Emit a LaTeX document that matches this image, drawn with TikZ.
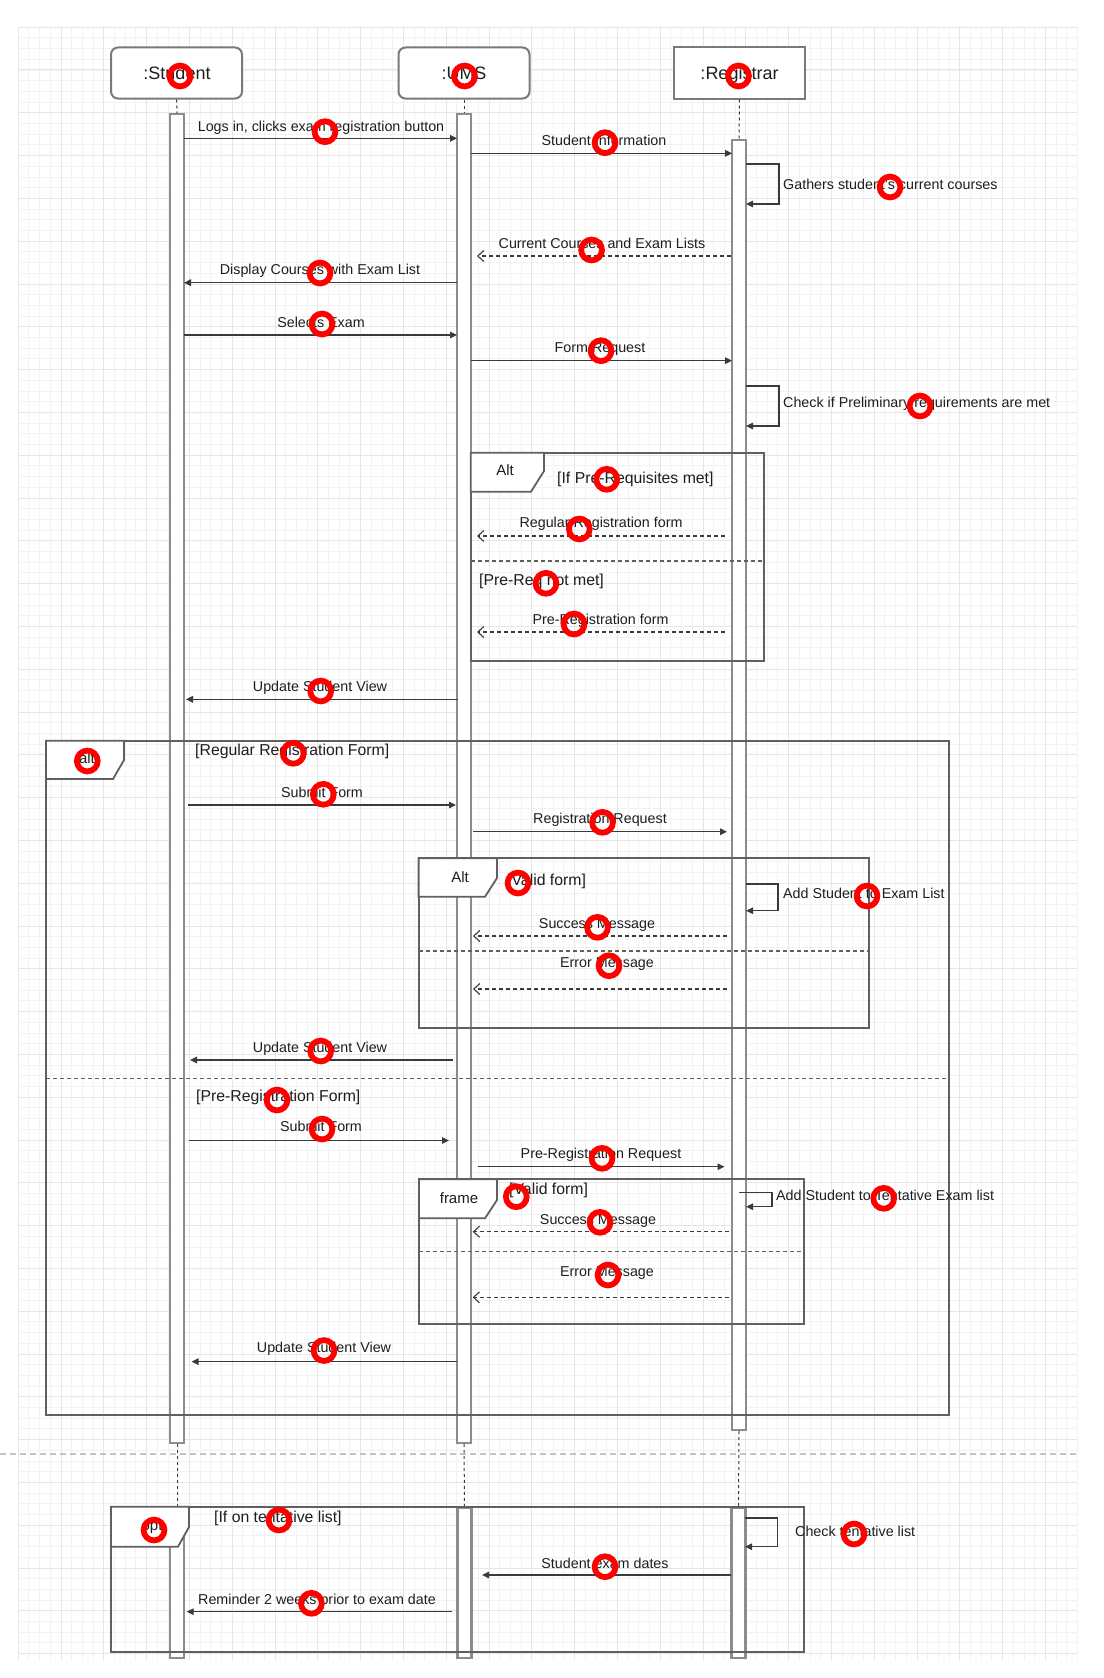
\documentclass[tikz,border=0pt]{standalone}
\usepackage{fontspec}
\setmainfont{Liberation Sans}
\usetikzlibrary{arrows.meta}
\definecolor{txt}{HTML}{1E1E1E}
\definecolor{ln}{HTML}{3A3A3A}
\definecolor{barc}{HTML}{8C8C8C}
\definecolor{frc}{HTML}{606060}
\definecolor{hdrc}{HTML}{7A7A7A}
\definecolor{gridc}{HTML}{F2F2F2}
\definecolor{gridm}{HTML}{E6E6E6}
\definecolor{sepc}{HTML}{C4C4C4}

\begin{document}
\begin{tikzpicture}[x=1pt,y=-1pt,
  lbl/.style={font=\fontsize{14.3}{16}\selectfont, text=txt, inner sep=0, anchor=mid},
  lbll/.style={lbl, anchor=mid west},
  guard/.style={font=\fontsize{15.8}{18}\selectfont, text=txt, inner sep=0, anchor=mid west},
  ftag/.style={font=\fontsize{15}{18}\selectfont, text=txt, inner sep=0, anchor=mid},
  htext/.style={font=\fontsize{18}{20}\selectfont, text=txt, inner sep=0, anchor=mid},
  hdr/.style={draw=hdrc, line width=2, fill=white, minimum width=131, minimum height=51, inner sep=0},
  bar/.style={draw=barc, line width=2.2, fill=white, minimum width=14, inner sep=0, anchor=north},
  life/.style={draw=ln, line width=1, dash pattern=on 3pt off 3pt},
  msg/.style={draw=ln, line width=1.4, -{Triangle[length=7pt,width=6.5pt]}},
  ret/.style={draw=ln, line width=1.1, dash pattern=on 4pt off 3pt, -{Straight Barb[length=6pt,width=11pt,line width=1.1pt]}},
  frm/.style={draw=frc, line width=1.8},
  tag/.style={draw=frc, line width=1.8, fill=white},
  altsep/.style={draw=frc, line width=1.2, dash pattern=on 4pt off 3pt},
  ring/.style={circle, draw=red, line width=5.8, minimum size=20.8, inner sep=0}
]
\useasboundingbox (0,0) rectangle (1103,1678);
\fill[white] (0,0) rectangle (1103,1678);

% background grid
\foreach \i in {0,...,99} \draw[gridc, line width=0.5] ({18+10.7*\i},27) -- ({18+10.7*\i},1660);
\foreach \j in {0,...,152} \draw[gridc, line width=0.5] (18,{27+10.7*\j}) -- (1077,{27+10.7*\j});
\foreach \i in {0,...,24} \draw[gridm, line width=0.6] ({18+42.8*\i},27) -- ({18+42.8*\i},1660);
\foreach \j in {0,...,38} \draw[gridm, line width=0.6] (18,{27+42.8*\j}) -- (1077,{27+42.8*\j});

% separator between the two phases
\draw[sepc, line width=1.2, dash pattern=on 6pt off 4pt] (0,1454) -- (1080,1454);

% lifeline heads
\node[hdr, rounded corners=7] (student) at (176.5,73) {};
\node[hdr, rounded corners=7] (ums) at (464,73) {};
\node[hdr] (registrar) at (739.5,73) {};
\node[htext] (tstudent) at (177,76.5) {:Student};
\node[htext] (tums) at (464,76.5) {:UMS};
\node[htext] (tregistrar) at (739.5,76.5) {:Registrar};

% activation bars
\node[bar, minimum height=1328.7] (sbar) at (177,113) {};
\node[bar, minimum height=1328.7] (ubar) at (464,113) {};
\node[bar, minimum height=1290] (rbar) at (739,139) {};
\node[bar, minimum height=150.3] (sbar2) at (177,1506.7) {};
\node[bar, minimum height=150.3] (ubar2) at (464.5,1506.7) {};
\node[bar, minimum height=150.3] (rbar2) at (738.5,1506.7) {};

% dashed lifelines
\draw[life] (student.south) -- (sbar.north);
\draw[life] (ums.south) -- (ubar.north);
\draw[life] (registrar.south) -- (rbar.north);
\draw[life] (sbar.south) -- (sbar2.north);
\draw[life] (ubar.south) -- (ubar2.north);
\draw[life] (rbar.south) -- (rbar2.north);

% ---- combined fragments ----
% alt: pre-requisites
\draw[frm] (470.7,452.7) rectangle (764,660.7);
\draw[altsep] (470.7,561) -- (764,561);
% outer alt: form type
\draw[frm] (46,740.7) rectangle (949,1415);
\draw[altsep] (46,1078.3) -- (949,1078.3);
% alt: valid regular form
\draw[frm] (418.6,858.3) rectangle (869,1028.3);
\draw[altsep] (418.6,951) -- (869,951);
% frame: valid pre-registration form
\draw[frm] (419,1179.3) rectangle (804,1324);
\draw[altsep] (419,1251.7) -- (804,1251.7);
% opt: tentative list
\draw[frm] (111,1506.7) rectangle (804,1651.7);

% fragment tags
\draw[tag] (470.7,452.7) -- (544,452.7) -- (544,471) -- (531,491.7) -- (470.7,491.7) -- cycle;
\draw[tag] (46,740.7) -- (124,740.7) -- (124,760) -- (113,779) -- (46,779) -- cycle;
\draw[tag] (418.6,858.3) -- (497,858.3) -- (497,878) -- (485,896.7) -- (418.6,896.7) -- cycle;
\draw[tag] (419,1179.3) -- (497,1179.3) -- (497,1200) -- (485,1218.3) -- (419,1218.3) -- cycle;
\draw[tag] (111,1506.7) -- (189,1506.7) -- (189,1527) -- (178,1546.7) -- (111,1546.7) -- cycle;
\node[ftag] (ftag1) at (505,473) {Alt};
\node[ftag] (ftag2) at (87,761) {alt};
\node[ftag] (ftag3) at (460,880) {Alt};
\node[ftag] (ftag4) at (459,1201) {frame};
\node[ftag] (ftag5) at (152,1528) {opt};

% guards
\node[guard] (g1) at (557,481) {[If Pre-Requisites met]};
\node[guard] (g2) at (479,583) {[Pre-Req not met]};
\node[guard] (g3) at (195,753) {[Regular Registration Form]};
\node[guard] (g4) at (507,883) {[Valid form]};
\node[guard] (g5) at (196,1099) {[Pre-Registration Form]};
\node[guard] (g6) at (509,1192) {[Valid form]};
\node[guard] (g7) at (214,1520) {[If on tentative list]};

% ---- messages ----
\coordinate (m1a) at (184,138.3); \coordinate (m1b) at (457,138.3);
\draw[msg] (m1a) -- (m1b);
\node[lbl] (t1) at (321,129) {Logs in, clicks exam registration button};

\coordinate (m2a) at (471,153.3); \coordinate (m2b) at (732,153.3);
\draw[msg] (m2a) -- (m2b);
\node[lbl] (t2) at (604,143) {Student Information};

\coordinate (s1a) at (746,164); \coordinate (s1b) at (779,164);
\coordinate (s1c) at (779,204); \coordinate (s1d) at (746,204);
\draw[msg] (s1a) -- (s1b) -- (s1c) -- (s1d);
\node[lbll] (t3) at (783,187) {Gathers student's current courses};

\coordinate (m3a) at (731,256); \coordinate (m3b) at (477,256);
\draw[ret] (m3a) -- (m3b);
\node[lbl] (t4) at (602,246) {Current Courses and Exam Lists};

\coordinate (m4a) at (457,282.7); \coordinate (m4b) at (184,282.7);
\draw[msg] (m4a) -- (m4b);
\node[lbl] (t5) at (320,272) {Display Courses with Exam List};

\coordinate (m5a) at (184,335); \coordinate (m5b) at (457,335);
\draw[msg] (m5a) -- (m5b);
\node[lbl] (t6) at (321,325) {Selects Exam};

\coordinate (m6a) at (471,360.7); \coordinate (m6b) at (732,360.7);
\draw[msg] (m6a) -- (m6b);
\node[lbl] (t7) at (600,350) {Form Request};

\coordinate (s2a) at (746,386); \coordinate (s2b) at (779,386);
\coordinate (s2c) at (779,426); \coordinate (s2d) at (746,426);
\draw[msg] (s2a) -- (s2b) -- (s2c) -- (s2d);
\node[lbll] (t8) at (783,405) {Check if Preliminary requirements are met};

\coordinate (m7a) at (725,536); \coordinate (m7b) at (477,536);
\draw[ret] (m7a) -- (m7b);
\node[lbl] (t9) at (601,525) {Regular Registration form};

\coordinate (m8a) at (725,632); \coordinate (m8b) at (477,632);
\draw[ret] (m8a) -- (m8b);
\node[lbl] (t10) at (600.5,622) {Pre-Registration form};

\coordinate (m9a) at (458,699.3); \coordinate (m9b) at (186,699.3);
\draw[msg] (m9a) -- (m9b);
\node[lbl] (t11) at (320,689) {Update Student View};

\coordinate (m10a) at (188,805); \coordinate (m10b) at (456,805);
\draw[msg] (m10a) -- (m10b);
\node[lbl] (t12) at (322,795) {Submit Form};

\coordinate (m11a) at (473,831.7); \coordinate (m11b) at (727,831.7);
\draw[msg] (m11a) -- (m11b);
\node[lbl] (t13) at (600,821) {Registration Request};

\coordinate (s3a) at (746,884); \coordinate (s3b) at (778,884);
\coordinate (s3c) at (778,910.7); \coordinate (s3d) at (746,910.7);
\draw[msg] (s3a) -- (s3b) -- (s3c) -- (s3d);
\node[lbll] (t14) at (783,896) {Add Student to Exam List};

\coordinate (m12a) at (727,936); \coordinate (m12b) at (473,936);
\draw[ret] (m12a) -- (m12b);
\node[lbl] (t15) at (597,926) {Success Message};

\coordinate (m13a) at (727,989); \coordinate (m13b) at (473,989);
\draw[ret] (m13a) -- (m13b);
\node[lbl] (t16) at (607,965) {Error Message};

\coordinate (m14a) at (453,1060); \coordinate (m14b) at (190,1060);
\draw[msg] (m14a) -- (m14b);
\node[lbl] (t17) at (320,1050) {Update Student View};

\coordinate (m15a) at (189,1140.5); \coordinate (m15b) at (449,1140.5);
\draw[msg] (m15a) -- (m15b);
\node[lbl] (t18) at (321,1129) {Submit Form};

\coordinate (m16a) at (477.6,1166.7); \coordinate (m16b) at (724.5,1166.7);
\draw[msg] (m16a) -- (m16b);
\node[lbl] (t19) at (601,1156) {Pre-Registration Request};

\coordinate (s4a) at (739,1192.7); \coordinate (s4b) at (772,1192.7);
\coordinate (s4c) at (772,1206.7); \coordinate (s4d) at (746,1206.7);
\draw[msg] (s4a) -- (s4b) -- (s4c) -- (s4d);
\node[lbll] (t20) at (776,1198) {Add Student to Tentative Exam list};

\coordinate (m17a) at (728.6,1231.7); \coordinate (m17b) at (472.7,1231.7);
\draw[ret] (m17a) -- (m17b);
\node[lbl] (t21) at (598,1222) {Success Message};

\coordinate (m18a) at (728.6,1297.3); \coordinate (m18b) at (472.7,1297.3);
\draw[ret] (m18a) -- (m18b);
\node[lbl] (t22) at (607,1274) {Error Message};

\coordinate (m19a) at (457,1361.6); \coordinate (m19b) at (191.5,1361.6);
\draw[msg] (m19a) -- (m19b);
\node[lbl] (t23) at (324,1350) {Update Student View};

\coordinate (s5a) at (745,1518); \coordinate (s5b) at (777.5,1518);
\coordinate (s5c) at (777.5,1546.7); \coordinate (s5d) at (745,1546.7);
\draw[msg] (s5a) -- (s5b) -- (s5c) -- (s5d);
\node[lbll] (t24) at (795,1534) {Check tentative list};

\coordinate (m20a) at (731,1575); \coordinate (m20b) at (482,1575);
\draw[msg] (m20a) -- (m20b);
\node[lbl] (t25) at (605,1566) {Student exam dates};

\coordinate (m21a) at (452,1611.7); \coordinate (m21b) at (186.7,1611.7);
\draw[msg] (m21a) -- (m21b);
\node[lbl] (t26) at (317,1602) {Reminder 2 weeks prior to exam date};

% ---- red rings ----
\foreach \x/\y [count=\k] in {180/76, 464.5/76, 738.5/76, 325/131.7, 605/142.7, 890/187,
  591.6/250, 320/273, 322/324, 601/350.7, 920/406, 606.7/479.3, 579.3/529, 546/583.3,
  574/624, 320.7/691, 87.3/761, 293.3/753.3, 323.3/794.3, 518/883, 320.7/1051,
  602.5/822.3, 867/896, 597.5/927.3, 609/965.7, 277/1100, 322/1129, 602/1158.3,
  516.3/1196.7, 883.7/1198.3, 600/1222.3, 608/1275, 324/1350.5, 154/1530, 279/1520,
  854/1534, 605/1566.7, 311.4/1603.3}
  \node[ring] (ring\k) at (\x,\y) {};
\end{tikzpicture}
\end{document}
